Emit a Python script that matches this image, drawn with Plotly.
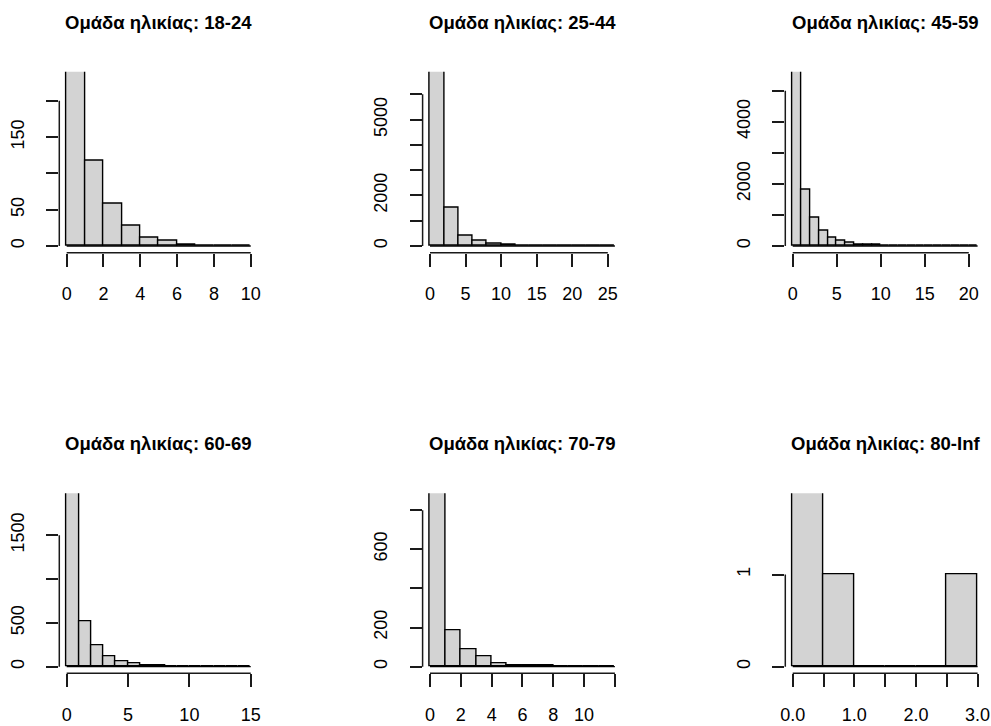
import plotly.graph_objects as go

# Age groups shown in the 2x3 grid of histograms
age_groups = ["18-24", "25-44", "45-59", "60-69", "70-79", "80-Inf"]

# Histogram break points for each age group
breaks_18_24 = [0, 1, 2, 3, 4, 5, 6, 7, 8, 9, 10]
breaks_25_44 = [0, 2, 4, 6, 8, 10, 12, 14, 16, 18, 20, 22, 24, 26]
breaks_45_59 = list(range(0, 22))
breaks_60_69 = list(range(0, 16))
breaks_70_79 = list(range(0, 13))
breaks_80_inf = [0.0, 0.5, 1.0, 1.5, 2.0, 2.5, 3.0]

# Bin counts for each age group
counts_18_24 = [410, 117, 58, 28, 12, 7, 2, 1, 1, 1]
counts_25_44 = [14800, 1500, 400, 200, 80, 50, 15, 8, 4, 2, 1, 0, 1]
counts_45_59 = [11200, 1825, 920, 483, 258, 161, 107, 55, 45, 40, 6, 3, 2, 1, 1, 1, 0, 0, 1, 0, 1]
counts_60_69 = [4300, 519, 248, 115, 57, 38, 18, 12, 4, 3, 2, 1, 1, 0, 1]
counts_70_79 = [1950, 188, 87, 51, 18, 8, 6, 5, 1, 0, 0, 1]
counts_80_inf = [2, 1, 0, 0, 0, 1]

# Upper y limit used in each panel (tall first bins run off the top)
ylim_top = [230.8, 6630, 5396, 1902, 852, 1.81]

# Axis ticks and their labels (crowded labels are left blank)
xticks = [
    [0, 2, 4, 6, 8, 10],
    [0, 5, 10, 15, 20, 25],
    [0, 5, 10, 15, 20],
    [0, 5, 10, 15],
    [0, 2, 4, 6, 8, 10, 12],
    [0.0, 0.5, 1.0, 1.5, 2.0, 2.5, 3.0],
]
xlabels = [
    ["0", "2", "4", "6", "8", "10"],
    ["0", "5", "10", "15", "20", "25"],
    ["0", "5", "10", "15", "20"],
    ["0", "5", "10", "15"],
    ["0", "2", "4", "6", "8", "10", ""],
    ["0.0", "", "1.0", "", "2.0", "", "3.0"],
]
yticks = [
    [0, 50, 100, 150, 200],
    [0, 1000, 2000, 3000, 4000, 5000, 6000],
    [0, 1000, 2000, 3000, 4000, 5000],
    [0, 500, 1000, 1500],
    [0, 200, 400, 600, 800],
    [0, 1],
]
ylabels = [
    ["0", "50", "", "150", ""],
    ["0", "", "2000", "", "", "5000", ""],
    ["0", "", "2000", "", "4000", ""],
    ["0", "500", "", "1500"],
    ["0", "200", "", "600", ""],
    ["0", "1"],
]

all_breaks = [breaks_18_24, breaks_25_44, breaks_45_59, breaks_60_69, breaks_70_79, breaks_80_inf]
all_counts = [counts_18_24, counts_25_44, counts_45_59, counts_60_69, counts_70_79, counts_80_inf]

# ---- page geometry (pixels) ----
W, H = 991, 726
col_px = [(59.3, 258.1), (422.6, 622.3), (785.3, 985.0)]
row_px = [(71.7, 252.7), (493.3, 673.3)]

FONT = "Liberation Sans, Arial, sans-serif"
AX_FONT = 18
TITLE_FONT = 18.5
INK = "#1a1a1a"
FILL = "#d3d3d3"

fig = go.Figure()
layout = dict(
    width=W, height=H,
    margin=dict(l=0, r=0, t=0, b=0, autoexpand=False),
    paper_bgcolor="white", plot_bgcolor="white",
    showlegend=False, bargap=0,
    font=dict(family=FONT, color="black"),
)
shapes = []
annotations = []

for i, (grp, br, ct) in enumerate(zip(age_groups, all_breaks, all_counts)):
    r, c = divmod(i, 3)
    n = i + 1
    xa = "x" if n == 1 else f"x{n}"
    ya = "y" if n == 1 else f"y{n}"
    xkey = "xaxis" if n == 1 else f"xaxis{n}"
    ykey = "yaxis" if n == 1 else f"yaxis{n}"

    mids = [(br[k] + br[k + 1]) / 2 for k in range(len(ct))]
    widths = [br[k + 1] - br[k] for k in range(len(ct))]

    fig.add_trace(go.Bar(
        x=mids, y=ct, width=widths, xaxis=xa, yaxis=ya,
        marker=dict(color=FILL, line=dict(color="black", width=1.4)),
        hoverinfo="x+y",
    ))

    x0p, x1p = col_px[c]
    y0p, y1p = row_px[r]
    xspan = br[-1] - br[0]
    T = ylim_top[i]

    layout[xkey] = dict(
        domain=[x0p / W, x1p / W], anchor=ya, automargin=False,
        range=[br[0] - 0.04 * xspan, br[-1] + 0.04 * xspan],
        tickmode="array", tickvals=xticks[i], ticktext=xlabels[i],
        ticks="outside", ticklen=13, tickwidth=1.5, tickcolor=INK,
        showline=False, showgrid=False, zeroline=False,
        tickfont=dict(size=AX_FONT, color="black"),
        ticklabelstandoff=12, fixedrange=True,
    )
    layout[ykey] = dict(
        domain=[1 - y1p / H, 1 - y0p / H], anchor=xa, automargin=False,
        range=[-0.04 * T, 1.04 * T],
        tickmode="array", tickvals=yticks[i], ticktext=ylabels[i],
        ticks="outside", ticklen=12, tickwidth=1.5, tickcolor=INK,
        tickangle=-90,
        showline=False, showgrid=False, zeroline=False,
        tickfont=dict(size=AX_FONT, color="black"),
        ticklabelstandoff=15, fixedrange=True,
    )

    # axis lines spanning first to last tick
    shapes.append(dict(type="line", xref=xa, yref=f"{ya} domain",
                       x0=xticks[i][0], x1=xticks[i][-1], y0=0, y1=0,
                       line=dict(color=INK, width=1.5)))
    shapes.append(dict(type="line", xref=f"{xa} domain", yref=ya,
                       x0=0, x1=0, y0=yticks[i][0], y1=yticks[i][-1],
                       line=dict(color=INK, width=1.5)))
    # baseline under all bins (empty bins collapse onto it)
    shapes.append(dict(type="line", xref=xa, yref=ya,
                       x0=br[0], x1=br[-1], y0=0, y1=0,
                       line=dict(color="black", width=1.4)))

    annotations.append(dict(
        text=f"<b>Ομάδα ηλικίας: {grp}</b>",
        xref="paper", yref="paper",
        x=(x0p + x1p) / 2 / W, y=1 - (y0p - 37) / H,
        xanchor="center", yanchor="bottom", showarrow=False,
        font=dict(size=TITLE_FONT, color="black", family=FONT),
    ))

layout["shapes"] = shapes
layout["annotations"] = annotations
fig.update_layout(**layout)
fig.write_html("out.html")
